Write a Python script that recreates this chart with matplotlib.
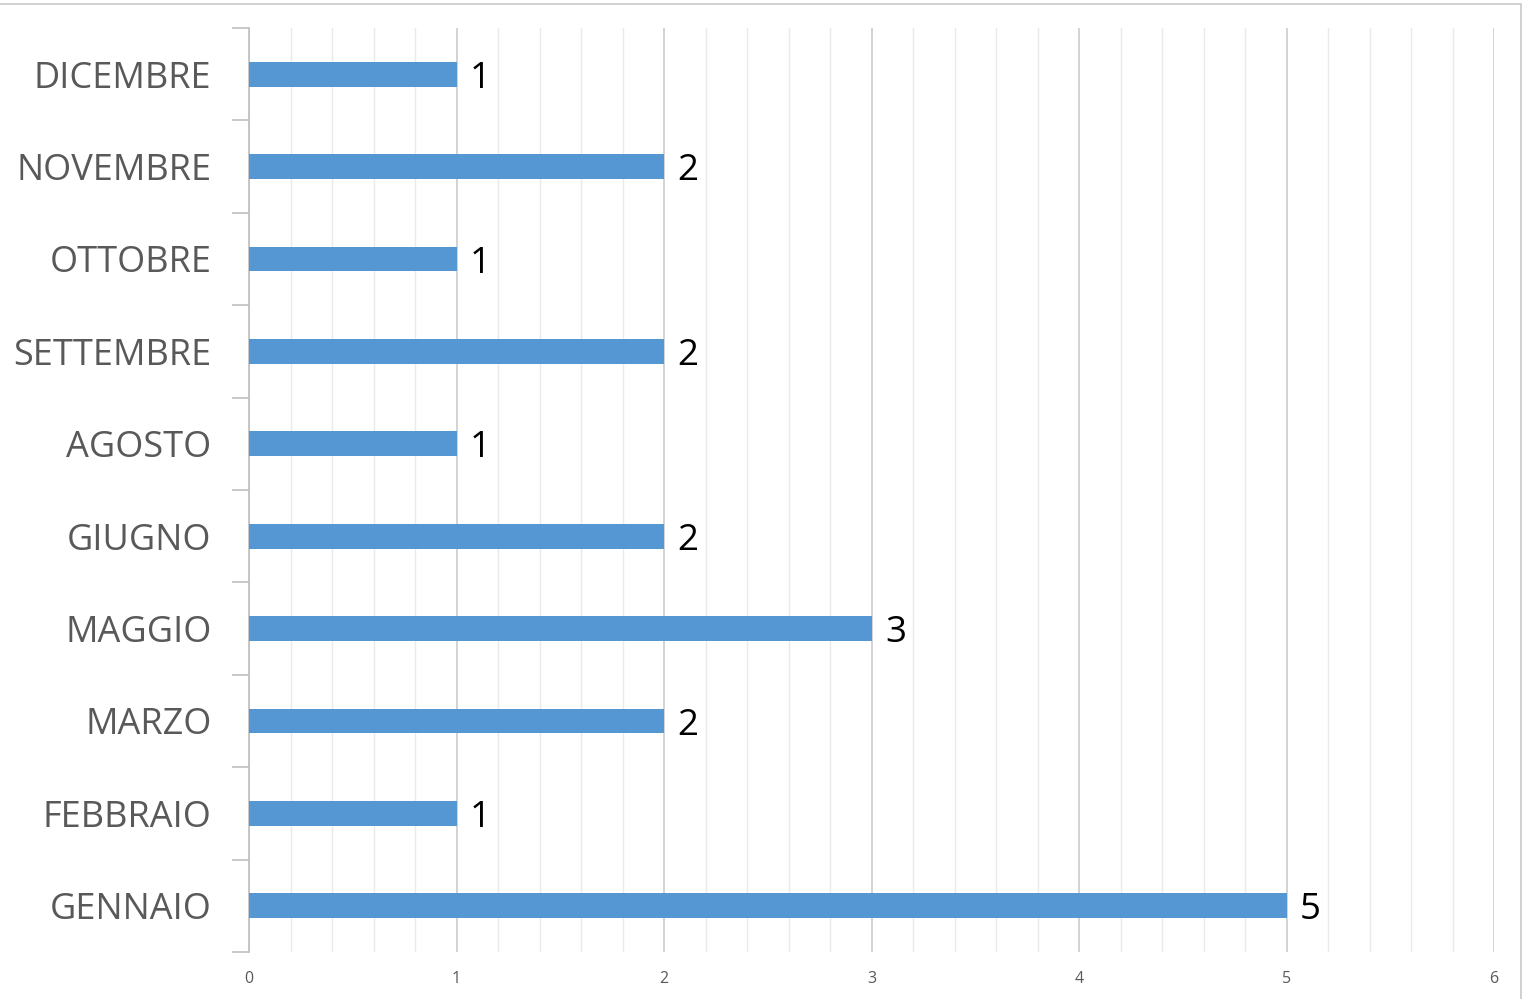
import matplotlib
matplotlib.use("Agg")
import matplotlib.pyplot as plt
from matplotlib.ticker import MultipleLocator, FixedLocator
from matplotlib.patches import Rectangle

months = ["GENNAIO", "FEBBRAIO", "MARZO", "MAGGIO", "GIUGNO", "AGOSTO",
          "SETTEMBRE", "OTTOBRE", "NOVEMBRE", "DICEMBRE"]
values = [5, 1, 2, 3, 2, 1, 2, 1, 2, 1]
xticks = [0, 1, 2, 3, 4, 5, 6]

plt.rcParams['font.family'] = ['Open Sans', 'DejaVu Sans']

W, H = 1528, 999
fig = plt.figure(figsize=(W / 100, H / 100), dpi=100)
ax = fig.add_axes([249 / W, 1 - 952 / H, (1494 - 249) / W, (952 - 28) / H])

pos = list(range(len(months)))
ax.barh(pos, values, height=0.27, color="#5597D3", zorder=3)
ax.set_xlim(0, 6)
ax.set_ylim(-0.5, len(months) - 0.5)

ax.xaxis.set_major_locator(FixedLocator(xticks))
ax.xaxis.set_minor_locator(MultipleLocator(0.2))
ax.grid(axis='x', which='major', color="#D0D0D0", linewidth=1.3, zorder=0)
ax.grid(axis='x', which='minor', color="#EAEAEA", linewidth=1.0, zorder=0)
ax.tick_params(axis='x', which='both', length=0, labelsize=11.5, labelcolor="#595959", pad=14)
ax.set_xticklabels([str(t) for t in xticks])

ax.set_yticks(pos)
ax.set_yticklabels(months, fontsize=26, color="#595959")
ax.yaxis.set_minor_locator(FixedLocator([p - 0.5 for p in pos] + [len(months) - 0.5]))
ax.tick_params(axis='y', which='major', length=0, pad=27)
ax.tick_params(axis='y', which='minor', length=12, color="#BFBFBF", width=1.2)

for s in ['top', 'right', 'bottom']:
    ax.spines[s].set_visible(False)
ax.spines['left'].set_color("#BFBFBF")
ax.spines['left'].set_linewidth(1.2)

for p, v in zip(pos, values):
    ax.text(v + 0.065, p - 0.05, str(v), va='center', ha='left', fontsize=26.5, color="black", zorder=4)

fig.patches.append(Rectangle((-10 / W, -10 / H), (1521 + 10) / W, (H - 4 + 10) / H,
                             transform=fig.transFigure, fill=False,
                             edgecolor="#C8C8C8", linewidth=1.2))

fig.savefig("out.png", dpi=100)
